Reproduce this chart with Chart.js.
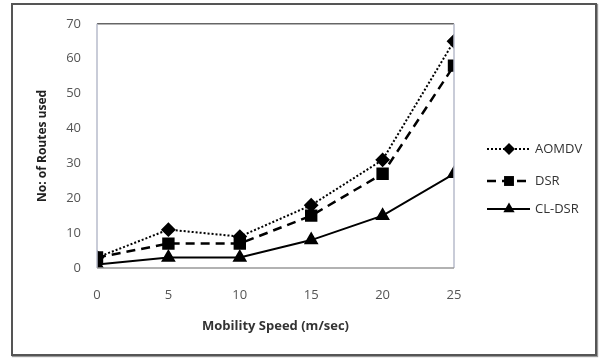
<!DOCTYPE html>
<html>
<head>
<meta charset="utf-8">
<script src="https://cdn.jsdelivr.net/npm/chart.js@4"></script>
<style>
  body { margin: 0; background: #fff; }
  #wrap { position: relative; width: 607px; height: 360px; }
  #frame { position: absolute; left: 11px; top: 3px; width: 582px; height: 349px;
           border: 2px solid #555; box-shadow: 1px 1px 1px #999; }
  canvas { position: absolute; left: 0; top: 0; }
</style>
</head>
<body>
<div id="wrap">
  <div id="frame"></div>
  <canvas id="chart" width="607" height="360"></canvas>
</div>
<script>
const speeds = [0, 5, 10, 15, 20, 25];
const aomdv = [3, 11, 9, 18, 31, 65];
const dsr = [3, 7, 7, 15, 27, 58];
const clDsr = [1, 3, 3, 8, 15, 27];
const seriesNames = ["AOMDV", "DSR", "CL-DSR"];
const yTicks = [0, 10, 20, 30, 40, 50, 60, 70];

const pts = (vals) => vals.map((v, i) => ({ x: speeds[i], y: v }));

// plot box + legend on the right
const boxAndLegend = {
  id: "boxAndLegend",
  afterDatasetsDraw(chart) {
    const { ctx, chartArea: a } = chart;
    ctx.save();
    ctx.lineWidth = 1.5;
    ctx.strokeStyle = "#666";
    ctx.beginPath();
    ctx.moveTo(a.left, a.top); ctx.lineTo(a.right, a.top);
    ctx.stroke();
    ctx.strokeStyle = "#b8bccc";
    ctx.beginPath();
    ctx.moveTo(a.left, a.top); ctx.lineTo(a.left, a.bottom);
    ctx.moveTo(a.right, a.top); ctx.lineTo(a.right, a.bottom);
    ctx.stroke();
    ctx.strokeStyle = "#999";
    ctx.beginPath();
    ctx.moveTo(a.left, a.bottom); ctx.lineTo(a.right, a.bottom);
    ctx.stroke();

    const rows = [149, 181, 209];
    chart.data.datasets.forEach((ds, i) => {
      const y = rows[i];
      ctx.strokeStyle = ds.borderColor;
      ctx.lineWidth = ds.borderWidth;
      ctx.setLineDash(ds.borderDash || []);
      ctx.beginPath();
      ctx.moveTo(487, y); ctx.lineTo(530, y);
      ctx.stroke();
      ctx.setLineDash([]);
      ctx.fillStyle = "#000";
      ctx.lineWidth = 0;
      Chart.helpers.drawPoint(ctx, {
        pointStyle: ds.pointStyle, radius: ds.pointRadius, borderWidth: 0, rotation: 0
      }, 509, y);
      ctx.fillStyle = "#333";
      ctx.font = "13px 'Open Sans'";
      ctx.textBaseline = "middle";
      ctx.fillText(ds.label, 535, y);
    });
    ctx.restore();
  }
};

new Chart(document.getElementById("chart"), {
  type: "line",
  data: {
    datasets: [
      { label: seriesNames[0], data: pts(aomdv), borderColor: "#000", backgroundColor: "#000",
        borderWidth: 2, borderDash: [2, 2], pointStyle: "rectRot", pointRadius: 6 },
      { label: seriesNames[1], data: pts(dsr), borderColor: "#000", backgroundColor: "#000",
        borderWidth: 2.5, borderDash: [9, 6], pointStyle: "rect", pointRadius: 7 },
      { label: seriesNames[2], data: pts(clDsr), borderColor: "#000", backgroundColor: "#000",
        borderWidth: 2, pointStyle: "triangle", pointRadius: 6.5 }
    ]
  },
  options: {
    responsive: false,
    animation: false,
    layout: { padding: { left: 0, top: 21, right: 153, bottom: 0 } },
    plugins: { legend: { display: false }, tooltip: { enabled: false } },
    elements: { line: { tension: 0 }, point: { borderWidth: 0 } },
    scales: {
      x: {
        type: "linear", min: 0, max: 25,
        afterBuildTicks: (s) => { s.ticks = speeds.map(v => ({ value: v })); },
        afterFit: (s) => { s.height = 92; },
        grid: { display: false, drawTicks: false },
        border: { display: false },
        ticks: { padding: 19, color: "#555", font: { size: 13, family: "Open Sans" } },
        title: { display: true, text: "Mobility Speed (m/sec)", color: "#333",
                 font: { size: 13, weight: "bold", family: "Open Sans" }, padding: { bottom: 26 } }
      },
      y: {
        min: 0, max: 70,
        afterBuildTicks: (s) => { s.ticks = yTicks.map(v => ({ value: v })); },
        afterFit: (s) => { s.width = 97; },
        grid: { display: false, drawTicks: false },
        border: { display: false },
        ticks: { padding: 16, color: "#555", font: { size: 13, family: "Open Sans" } },
        title: { display: true, text: "No: of Routes used", color: "#222",
                 font: { size: 12, weight: "bold", family: "Open Sans" }, padding: { top: 35 } }
      }
    }
  },
  plugins: [boxAndLegend]
});
</script>
</body>
</html>
